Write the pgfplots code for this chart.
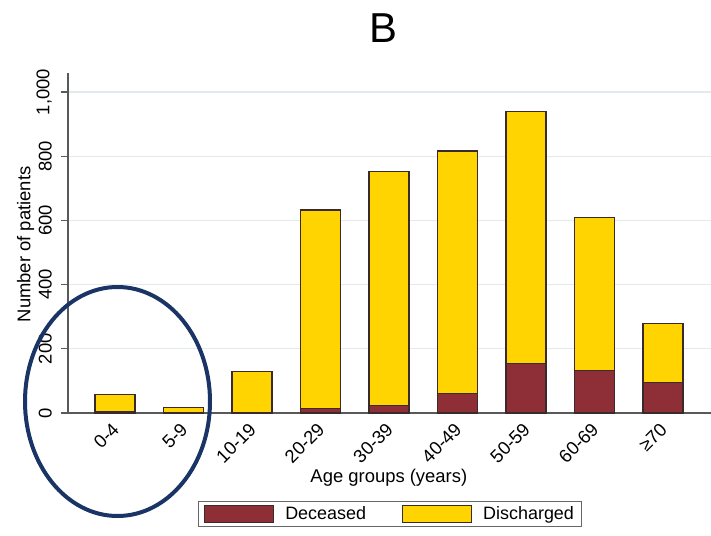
\documentclass[border=0pt]{standalone}
\usepackage{pgfplots}
\pgfplotsset{compat=1.18}
\usepackage{fontspec}
\setmainfont{Liberation Sans}
\definecolor{dec}{HTML}{8E2F38}
\definecolor{dis}{HTML}{FFD400}
\definecolor{edge}{HTML}{3A2A2A}
\definecolor{gridc}{HTML}{E3EAED}
\definecolor{navy}{HTML}{1B3466}
\begin{document}
\begin{tikzpicture}
\useasboundingbox (0bp,0bp) rectangle (711bp,-536bp);
\begin{axis}[
  at={(68bp,-413bp)}, anchor=south west,
  scale only axis, width=643bp, height=340bp,
  xmin=-0.686, xmax=8.70, ymin=0, ymax=1059,
  enlargelimits=false,
  axis x line*=bottom, axis y line*=left,
  axis line style={-, draw=black!65, line width=1.2bp},
  ybar stacked, bar width=40bp,
  xtick={0,...,8},
  xticklabels={0-4,5-9,10-19,20-29,30-39,40-49,50-59,60-69,≥70},
  x tick label style={xshift=-4bp, rotate=45, anchor=north east, font=\fontsize{18.5}{18.5}\selectfont, inner sep=1bp},
  xtick style={draw=none},
  ytick={0,200,400,600,800,1000},
  /pgf/number format/assume math mode=true,
  /pgf/number format/1000 sep={,},
  y tick label style={rotate=90, anchor=south, font=\fontsize{18.5}{18.5}\selectfont, inner sep=2bp, yshift=7bp},
  ytick style={draw=black!65, line width=1.2bp},
  tick align=outside, major tick length=7bp,
  ymajorgrids, grid style={color=gridc, line width=1.2bp},
  xlabel={Age groups (years)},
  xlabel style={at={(axis description cs:0.499,-0.189)}, anchor=center, font=\fontsize{18.5}{18.5}\selectfont},
  ylabel={Number of patients},
  ylabel style={at={(axis description cs:-0.066,0.496)}, anchor=center, font=\fontsize{18.5}{18.5}\selectfont},
  title={B},
  title style={at={(axis description cs:0.49,1.114)}, anchor=center, font=\fontsize{42}{42}\selectfont},
  legend columns=2,
  legend style={at={(axis description cs:0.5008,-0.297)}, anchor=center,
    draw=black!60, line width=1bp, font=\fontsize{18}{18}\selectfont,
    inner xsep=6bp, inner ysep=3bp,
    /tikz/every even column/.append style={column sep=34bp}},
  legend image code/.code={\draw[#1, line width=1.2bp] (0bp,-8.5bp) rectangle (69bp,8.5bp); \path (0bp,0bp) (78bp,0bp);},
]
\addplot[fill=dec, draw=edge, line width=1.2bp] coordinates {(0,5) (1,1) (2,1) (3,14) (4,23) (5,61) (6,155) (7,132) (8,94)};
\addlegendentry{Deceased}
\addplot[fill=dis, draw=edge, line width=1.2bp] coordinates {(0,53) (1,15) (2,129) (3,618) (4,729) (5,755) (6,783) (7,478) (8,186)};
\addlegendentry{Discharged\hspace{5bp}}
\end{axis}
\draw[navy, line width=4bp] (117.5bp,-401.5bp) ellipse [x radius=92.5bp, y radius=114.5bp];
\end{tikzpicture}
\end{document}
